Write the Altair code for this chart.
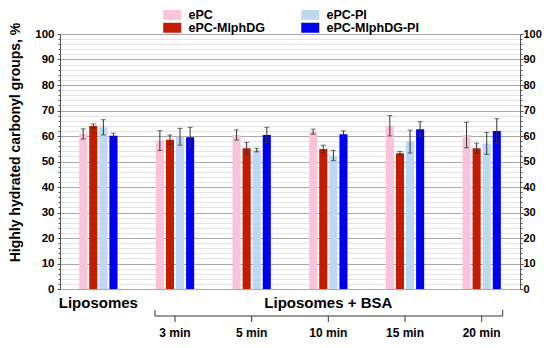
import altair as alt
import pandas as pd

groups = ["Liposomes", "3 min", "5 min", "10 min", "15 min", "20 min"]
series = ["ePC", "ePC-MlphDG", "ePC-PI", "ePC-MlphDG-PI"]
series_colors = ["#F9C3D9", "#C41C00", "#BFD8F2", "#0000F0"]

epc = [60.8, 58.2, 60.4, 61.7, 64.0, 60.4]
epc_err = [2.0, 3.9, 2.0, 1.0, 4.0, 5.0]
mlph = [63.9, 58.5, 55.2, 54.9, 53.2, 55.2]
mlph_err = [0.8, 1.9, 2.3, 1.5, 0.7, 2.0]
pi = [63.4, 59.7, 54.5, 52.3, 57.8, 57.1]
pi_err = [3.0, 3.3, 0.7, 2.0, 4.5, 4.3]
mpi = [60.1, 59.5, 60.4, 60.7, 62.6, 62.0]
mpi_err = [1.0, 3.9, 3.0, 1.3, 3.0, 4.8]

top_labels = ["Liposomes", "Liposomes + BSA"]
top_label_at = ["Liposomes", "10 min"]
time_labels = groups[1:]

rows = []
for s, vals, errs in zip(series, [epc, mlph, pi, mpi], [epc_err, mlph_err, pi_err, mpi_err]):
    for g, v, e in zip(groups, vals, errs):
        rows.append({"group": g, "series": s, "value": v, "lo": v - e, "hi": v + e})
df = pd.DataFrame(rows)

FONT = "Liberation Sans"
xscale = alt.Scale(domain=groups, paddingInner=0.5, paddingOuter=0.25)
xo_scale = alt.Scale(domain=series, paddingInner=0.2, paddingOuter=0)
ydom = alt.Scale(domain=[0, 100], nice=False, zero=True)

ticks_vals = list(range(0, 101, 2))
major = "datum.value % 10 === 0"

left_axis = alt.Axis(
    values=ticks_vals,
    labelExpr=f"{major} ? datum.label : ''",
    labelFont=FONT, labelFontSize=11.5, labelFontWeight="bold", labelColor="black",
    labelPadding=3,
    tickSize={"condition": {"test": major, "value": 3}, "value": 2},
    tickColor="#555", domainColor="#555",
    grid=True,
    gridColor={"condition": {"test": major, "value": "#a8a8a8"}, "value": "#e4e4e4"},
    title="Highly hydrated carbonyl groups, %",
    titleFont=FONT, titleFontSize=14, titleFontWeight="bold", titleColor="black",
    titleAngle=270, titleX=-45, titleY=108, titleBaseline="middle", titleAlign="center",
)
right_axis = alt.Axis(
    orient="right",
    values=ticks_vals,
    labelExpr=f"{major} ? datum.label : ''",
    labelFont=FONT, labelFontSize=11, labelFontWeight="bold", labelColor="black",
    labelPadding=0,
    tickSize={"condition": {"test": major, "value": 3}, "value": 2},
    tickColor="#555", domainColor="#555",
    grid=False, title=None,
)

x_enc = alt.X("group:N", scale=xscale, axis=None)
xo_enc = alt.XOffset("series:N", scale=xo_scale)

rect_path = "M-1.8,-1H1.8V1H-1.8Z"

bars = alt.Chart(df).mark_bar().encode(
    x=x_enc, xOffset=xo_enc,
    y=alt.Y("value:Q", scale=ydom, axis=left_axis),
    color=alt.Color(
        "series:N",
        scale=alt.Scale(domain=series, range=series_colors),
        legend=alt.Legend(
            title=None, orient="none", legendX=106, legendY=-25.5, columns=2,
            columnPadding=36, rowPadding=-3, symbolType=rect_path, symbolSize=100,
            symbolStrokeWidth=0, symbolOpacity=1,
            labelFont=FONT, labelFontSize=12.5, labelFontWeight="bold", labelColor="black",
            labelOffset=10,
        ),
    ),
)

err = alt.Chart(df).mark_rule(color="#333", strokeWidth=1).encode(
    x=x_enc, xOffset=xo_enc,
    y=alt.Y("lo:Q", scale=ydom, axis=None), y2="hi:Q",
)

caps = alt.Chart(df).transform_fold(["lo", "hi"], as_=["k", "v"]).mark_tick(
    color="#333", size=5, thickness=1
).encode(
    x=x_enc, xOffset=xo_enc,
    y=alt.Y("v:Q", scale=ydom, axis=right_axis),
)

top_df = pd.DataFrame({"group": top_label_at, "text": top_labels})
top_text = alt.Chart(top_df).mark_text(
    font=FONT, fontSize=15, fontWeight="bold", color="black", baseline="middle", align="center"
).encode(x=x_enc, y=alt.value(269), text="text:N")

time_df = pd.DataFrame({"group": time_labels})
time_text = alt.Chart(time_df).mark_text(
    font=FONT, fontSize=12, fontWeight="bold", color="black", baseline="middle", align="center"
).encode(x=x_enc, y=alt.value(299), text="group:N")

time_ticks = alt.Chart(time_df).mark_rule(color="#333", strokeWidth=1).encode(
    x=x_enc, y=alt.value(282), y2=alt.value(288)
)

br_df = pd.DataFrame({"group": [time_labels[0]], "g2": [time_labels[-1]]})
bracket = alt.Chart(br_df).mark_rule(color="#333", strokeWidth=1, xOffset=-20, x2Offset=21).encode(
    x=x_enc, x2="g2:N", y=alt.value(282)
)
br_left = alt.Chart(br_df).mark_rule(color="#333", strokeWidth=1, xOffset=-20).encode(
    x=x_enc, y=alt.value(276), y2=alt.value(282)
)
br_right_df = pd.DataFrame({"group": [time_labels[-1]]})
br_right = alt.Chart(br_right_df).mark_rule(color="#333", strokeWidth=1, xOffset=21).encode(
    x=x_enc, y=alt.value(276), y2=alt.value(282)
)

chart = alt.layer(
    bars, err, caps, top_text, time_text, time_ticks, bracket, br_left, br_right
).resolve_scale(y="independent").properties(
    width=460, height=255,
    autosize=alt.AutoSizeParams(type="none"),
    padding={"left": 52, "top": 26, "right": 22, "bottom": 51},
    background="white",
).configure_view(stroke="#555", strokeWidth=1)

chart.save("out.html", embed_options={"renderer": "svg", "actions": False})
